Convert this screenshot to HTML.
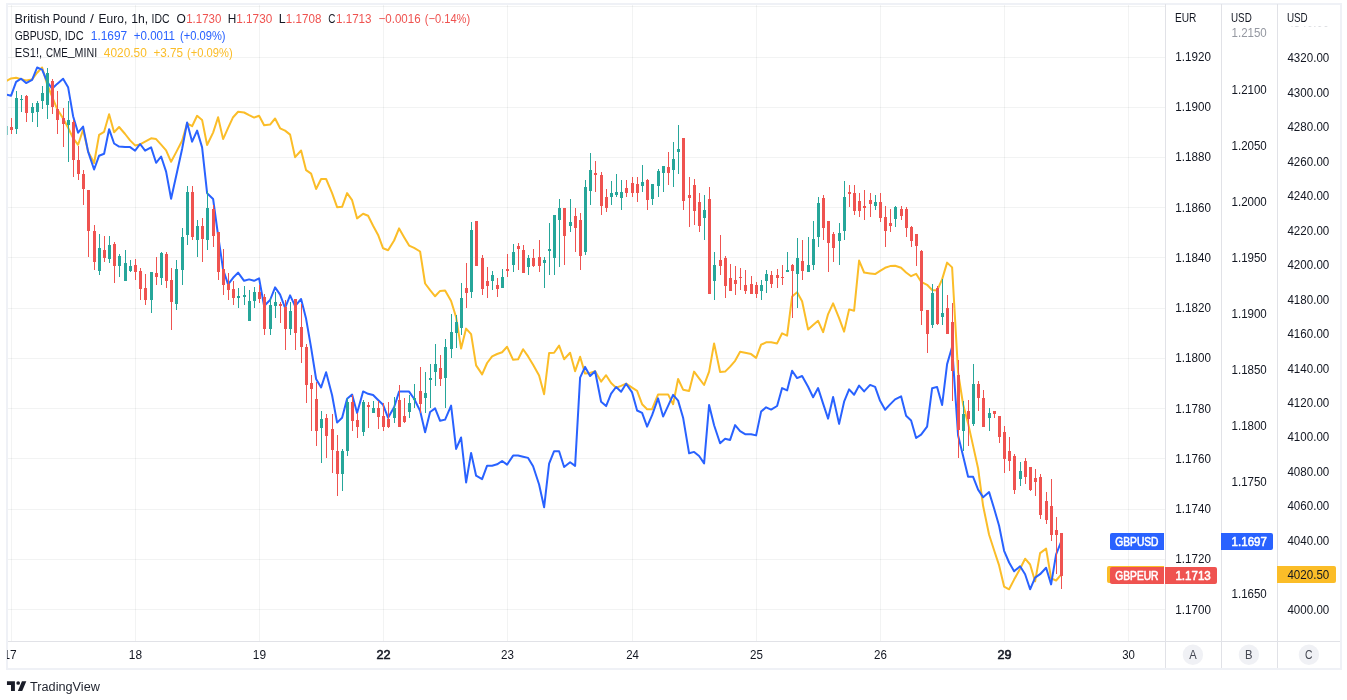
<!DOCTYPE html>
<html lang="en"><head><meta charset="utf-8"><title>GBPEUR chart</title>
<style>html,body{margin:0;padding:0;background:#fff;}body{width:1347px;height:700px;overflow:hidden;font-family:'Liberation Sans', Arial, sans-serif;}svg{display:block;}text{font-family:'Liberation Sans', Arial, sans-serif;}</style>
</head><body>
<svg width="1347" height="700" viewBox="0 0 1347 700">
<rect x="0" y="0" width="1347" height="700" fill="#ffffff"/>
<defs><clipPath id="pane"><rect x="7" y="5" width="1158" height="636"/></clipPath></defs>
<g fill="#eff1f6">
<rect x="6" y="3" width="1336" height="2"/>
<rect x="6" y="668" width="1336" height="2"/>
<rect x="6" y="3" width="2" height="667"/>
<rect x="1340" y="3" width="2" height="667"/>
</g>
<g fill="#e1e2e7">
<rect x="1165" y="4" width="1" height="664"/>
<rect x="1221" y="4" width="1" height="664"/>
<rect x="1277" y="4" width="1" height="664"/>
<rect x="8" y="641" width="1332" height="1"/>
</g>
<g stroke="#2a2e39" stroke-opacity="0.06" stroke-width="1">
<line x1="8" y1="6.5" x2="1165" y2="6.5"/>
<line x1="8" y1="57.5" x2="1165" y2="57.5"/>
<line x1="8" y1="107.5" x2="1165" y2="107.5"/>
<line x1="8" y1="157.5" x2="1165" y2="157.5"/>
<line x1="8" y1="207.5" x2="1165" y2="207.5"/>
<line x1="8" y1="257.5" x2="1165" y2="257.5"/>
<line x1="8" y1="308.5" x2="1165" y2="308.5"/>
<line x1="8" y1="358.5" x2="1165" y2="358.5"/>
<line x1="8" y1="408.5" x2="1165" y2="408.5"/>
<line x1="8" y1="458.5" x2="1165" y2="458.5"/>
<line x1="8" y1="509.5" x2="1165" y2="509.5"/>
<line x1="8" y1="559.5" x2="1165" y2="559.5"/>
<line x1="8" y1="609.5" x2="1165" y2="609.5"/>
<line x1="11.5" y1="5" x2="11.5" y2="641"/>
<line x1="135.5" y1="5" x2="135.5" y2="641"/>
<line x1="259.5" y1="5" x2="259.5" y2="641"/>
<line x1="383.5" y1="5" x2="383.5" y2="641"/>
<line x1="507.5" y1="5" x2="507.5" y2="641"/>
<line x1="632.5" y1="5" x2="632.5" y2="641"/>
<line x1="756.5" y1="5" x2="756.5" y2="641"/>
<line x1="880.5" y1="5" x2="880.5" y2="641"/>
<line x1="1004.5" y1="5" x2="1004.5" y2="641"/>
<line x1="1128.5" y1="5" x2="1128.5" y2="641"/>
</g>
<g clip-path="url(#pane)">
<polyline points="6.10,81.0 11.10,78.4 16.10,77.7 21.10,79.1 26.10,80.5 32.10,79.4 37.10,72.7 42.10,67.5 47.10,84.1 52.10,96.6 57.10,109.0 63.10,118.4 68.10,127.7 73.10,138.1 78.10,144.8 83.10,129.7 88.10,151.6 94.10,163.0 99.10,134.9 104.10,131.8 109.10,114.2 114.10,132.3 119.10,127.0 125.10,134.0 130.10,140.4 135.10,145.4 140.10,144.4 145.10,141.7 151.10,138.3 156.10,139.1 161.10,144.7 166.10,150.3 171.10,161.8 176.10,152.4 182.10,140.8 187.10,123.5 192.10,126.2 197.10,115.8 202.10,119.9 207.10,145.0 213.10,132.6 218.10,117.2 223.10,139.1 228.10,127.9 233.10,117.2 238.10,111.8 244.10,112.5 249.10,115.2 254.10,117.6 259.10,115.8 264.10,125.2 270.10,124.6 275.10,118.5 280.10,128.3 285.10,130.6 290.10,134.6 295.10,157.2 301.10,150.5 306.10,170.2 311.10,173.6 316.10,189.0 321.10,179.0 326.10,179.0 332.10,193.1 337.10,207.2 342.10,206.8 347.10,193.1 352.10,200.2 357.10,218.4 363.10,213.7 368.10,215.7 373.10,225.7 378.10,234.9 383.10,248.3 388.10,250.2 394.10,240.5 399.10,228.4 404.10,237.2 409.10,245.6 414.10,247.9 420.10,251.5 425.10,283.5 430.10,290.2 435.10,296.3 440.10,290.9 445.10,290.5 451.10,301.0 456.10,317.2 461.10,348.6 466.10,328.6 471.10,334.2 476.10,365.4 482.10,374.4 487.10,363.0 492.10,356.4 497.10,354.0 502.10,352.2 507.10,346.8 513.10,359.8 518.10,359.2 523.10,349.2 528.10,356.4 533.10,364.8 539.10,375.6 544.10,394.2 549.10,353.0 554.10,352.8 559.10,345.6 564.10,359.2 570.10,352.8 575.10,371.2 580.10,356.8 585.10,373.6 590.10,372.9 595.10,371.2 601.10,381.6 606.10,375.2 611.10,383.0 616.10,387.7 621.10,385.9 626.10,383.7 632.10,387.7 637.10,390.8 642.10,404.2 647.10,409.2 652.10,409.2 658.10,394.4 663.10,394.4 668.10,394.4 673.10,404.2 678.10,379.0 683.10,389.7 689.10,391.0 694.10,371.6 699.10,378.3 704.10,385.0 709.10,371.6 714.10,343.4 720.10,372.0 725.10,371.6 730.10,366.6 735.10,360.8 740.10,351.8 745.10,352.8 751.10,354.1 756.10,357.9 761.10,344.7 766.10,342.3 771.10,342.3 777.10,343.4 782.10,333.3 787.10,335.6 792.10,296.6 797.10,292.3 802.10,301.3 808.10,329.6 813.10,325.1 818.10,320.8 823.10,332.2 828.10,314.1 833.10,303.4 839.10,318.1 844.10,331.6 849.10,309.4 854.10,310.7 859.10,260.6 864.10,272.5 870.10,273.4 875.10,274.1 880.10,270.9 885.10,267.8 890.10,266.1 895.10,265.7 901.10,267.8 906.10,272.5 911.10,276.2 916.10,273.8 921.10,281.8 927.10,284.8 932.10,290.0 937.10,290.5 942.10,279.4 947.10,262.6 952.10,267.4 958.10,372.4 963.10,404.5 968.10,423.4 973.10,445.9 978.10,468.5 983.10,505.8 989.10,534.8 994.10,550.2 999.10,565.4 1004.10,586.6 1009.10,589.3 1014.10,579.6 1020.10,568.8 1025.10,558.7 1030.10,564.5 1035.10,581.4 1040.10,553.1 1046.10,548.6 1051.10,578.3 1056.10,580.5 1061.10,574.7" fill="none" stroke="#fbbd28" stroke-width="2" stroke-linejoin="round" stroke-linecap="round"/>
<polyline points="6.10,94.5 11.10,95.7 16.10,81.8 21.10,78.7 26.10,83.1 32.10,79.9 37.10,67.5 42.10,69.6 47.10,81.5 52.10,88.8 57.10,83.9 63.10,78.7 68.10,87.2 73.10,116.2 78.10,132.7 83.10,126.6 88.10,151.6 94.10,169.5 99.10,155.7 104.10,153.7 109.10,129.2 114.10,143.5 119.10,146.6 125.10,147.1 130.10,147.1 135.10,150.7 140.10,144.0 145.10,150.7 151.10,147.4 156.10,162.8 161.10,156.5 166.10,171.6 171.10,198.8 176.10,176.3 182.10,149.0 187.10,122.5 192.10,141.7 197.10,130.6 202.10,147.4 207.10,193.2 213.10,198.9 218.10,235.5 223.10,269.5 228.10,284.4 233.10,277.8 238.10,272.6 244.10,280.8 249.10,279.4 254.10,280.8 259.10,278.4 264.10,306.0 270.10,300.0 275.10,287.4 280.10,294.6 285.10,308.0 290.10,295.4 295.10,306.2 301.10,299.0 306.10,318.8 311.10,347.6 316.10,379.0 321.10,387.4 326.10,372.2 332.10,395.2 337.10,422.6 342.10,417.8 347.10,398.8 352.10,394.6 357.10,413.0 363.10,391.4 368.10,393.8 373.10,395.0 378.10,400.0 383.10,404.8 388.10,417.8 394.10,407.2 399.10,391.6 404.10,391.6 409.10,391.6 414.10,398.8 420.10,410.8 425.10,432.2 430.10,412.0 435.10,408.4 440.10,420.8 445.10,419.6 451.10,405.6 456.10,448.9 461.10,437.5 466.10,482.5 471.10,452.9 476.10,475.7 482.10,479.1 487.10,465.7 492.10,465.7 497.10,464.3 502.10,461.0 507.10,464.6 513.10,455.6 518.10,455.6 523.10,456.7 528.10,457.9 533.10,466.3 539.10,484.5 544.10,507.3 549.10,463.7 554.10,451.2 559.10,451.2 564.10,467.0 570.10,462.3 575.10,465.9 580.10,377.6 585.10,366.9 590.10,376.0 595.10,371.2 601.10,401.8 606.10,406.1 611.10,393.7 616.10,387.0 621.10,391.7 626.10,383.7 632.10,392.4 637.10,410.5 642.10,412.8 647.10,426.6 652.10,415.2 658.10,398.4 663.10,416.6 668.10,405.8 673.10,394.9 678.10,400.6 683.10,417.7 689.10,453.3 694.10,451.9 699.10,456.0 704.10,463.4 709.10,404.9 714.10,425.3 720.10,443.2 725.10,438.8 730.10,439.9 735.10,425.1 740.10,431.1 745.10,434.2 751.10,434.2 756.10,435.4 761.10,411.6 766.10,407.3 771.10,409.6 777.10,406.0 782.10,388.1 787.10,390.4 792.10,370.7 797.10,378.1 802.10,376.0 808.10,386.8 813.10,397.3 818.10,388.1 823.10,403.6 828.10,418.6 833.10,397.0 839.10,423.9 844.10,401.7 849.10,389.4 854.10,394.7 859.10,385.6 864.10,391.4 870.10,384.9 875.10,386.9 880.10,400.8 885.10,409.8 890.10,404.4 895.10,399.4 901.10,396.3 906.10,415.8 911.10,420.5 916.10,438.0 921.10,434.6 927.10,426.6 932.10,388.3 937.10,386.9 942.10,405.1 947.10,364.1 952.10,347.0 958.10,435.6 963.10,455.9 968.10,476.8 973.10,476.8 978.10,489.6 983.10,497.3 989.10,492.1 994.10,508.5 999.10,525.8 1004.10,550.8 1009.10,562.5 1014.10,571.3 1020.10,566.3 1025.10,574.2 1030.10,589.3 1035.10,577.6 1040.10,574.2 1046.10,567.7 1051.10,584.4 1056.10,554.4 1061.10,541.8" fill="none" stroke="#2962ff" stroke-width="2" stroke-linejoin="round" stroke-linecap="round"/>
<path d="M16 91v43h1v-43zM21 95v17h1v-17zM32 103v19h1v-19zM37 101v26h1v-26zM42 86v23h1v-23zM47 68v51h1v-51zM68 101v61h1v-61zM99 234v41h1v-41zM109 236v27h1v-27zM119 254v23h1v-23zM125 250v31h1v-31zM130 260v12h1v-12zM151 272v41h1v-41zM161 252v33h1v-33zM176 260v50h1v-50zM182 228v57h1v-57zM187 186v59h1v-59zM197 220v37h1v-37zM207 191v59h1v-59zM238 288v20h1v-20zM244 286v19h1v-19zM249 290v31h1v-31zM254 287v21h1v-21zM270 298v37h1v-37zM275 292v26h1v-26zM290 302v33h1v-33zM321 411v52h1v-52zM342 449v42h1v-42zM347 398v58h1v-58zM363 400v36h1v-36zM373 401v12h1v-12zM394 397v26h1v-26zM409 395v23h1v-23zM414 384v24h1v-24zM425 372v41h1v-41zM430 364v44h1v-44zM435 344v42h1v-42zM445 339v69h1v-69zM451 314v44h1v-44zM456 315v33h1v-33zM461 283v52h1v-52zM471 222v76h1v-76zM492 271v19h1v-19zM502 269v19h1v-19zM513 244v28h1v-28zM528 255v20h1v-20zM544 257v31h1v-31zM549 223v52h1v-52zM554 215v60h1v-60zM559 199v68h1v-68zM570 199v33h1v-33zM585 180v75h1v-75zM590 153v52h1v-52zM611 181v24h1v-24zM616 174v23h1v-23zM621 180v30h1v-30zM642 165v27h1v-27zM652 184v21h1v-21zM658 169v28h1v-28zM663 166v26h1v-26zM673 142v45h1v-45zM678 125v49h1v-49zM704 195v45h1v-45zM714 252v48h1v-48zM761 280v20h1v-20zM766 270v23h1v-23zM787 252v20h1v-20zM797 238v70h1v-70zM808 237v35h1v-35zM813 221v49h1v-49zM818 197v50h1v-50zM839 223v42h1v-42zM844 181v59h1v-59zM875 195v15h1v-15zM895 206v21h1v-21zM932 284v44h1v-44zM942 279v46h1v-46zM963 401v50h1v-50zM973 364v62h1v-62zM989 408v23h1v-23zM1020 462v24h1v-24z" fill="#26a69a"/>
<path d="M15 98v31h3v-31zM20 99v1h3v-1zM31 107v6h3v-6zM36 103v9h3v-9zM41 93v8h3v-8zM46 73v32h3v-32zM67 120v5h3v-5zM98 248v23h3v-23zM108 245v14h3v-14zM118 256v10h3v-10zM124 263v18h3v-18zM129 266v5h3v-5zM150 272v28h3v-28zM160 253v25h3v-25zM175 269v35h3v-35zM181 237v33h3v-33zM186 192v43h3v-43zM196 226v14h3v-14zM206 208v32h3v-32zM237 296v2h3v-2zM243 295v2h3v-2zM248 301v20h3v-20zM253 292v9h3v-9zM269 305v24h3v-24zM274 302v4h3v-4zM289 311v18h3v-18zM320 419v9h3v-9zM341 451v23h3v-23zM346 402v49h3v-49zM362 402v30h3v-30zM372 408v5h3v-5zM393 408v10h3v-10zM408 403v9h3v-9zM413 398v2h3v-2zM424 393v5h3v-5zM429 378v2h3v-2zM434 364v8h3v-8zM444 347v31h3v-31zM450 332v17h3v-17zM455 322v11h3v-11zM460 298v30h3v-30zM470 230v62h3v-62zM491 275v6h3v-6zM501 277v11h3v-11zM512 252v13h3v-13zM527 258v9h3v-9zM543 260v3h3v-3zM548 249v2h3v-2zM553 215v43h3v-43zM558 208v12h3v-12zM569 222v4h3v-4zM584 187v65h3v-65zM589 170v21h3v-21zM610 193v4h3v-4zM615 192v3h3v-3zM620 192v6h3v-6zM641 182v4h3v-4zM651 184v15h3v-15zM657 171v15h3v-15zM662 166v7h3v-7zM672 159v11h3v-11zM677 149v3h3v-3zM703 210v8h3v-8zM713 265v16h3v-16zM760 285v6h3v-6zM765 274v7h3v-7zM786 270v2h3v-2zM796 258v16h3v-16zM807 265v7h3v-7zM812 239v26h3v-26zM817 203v34h3v-34zM838 233v8h3v-8zM843 197v34h3v-34zM874 202v4h3v-4zM894 207v12h3v-12zM931 293v32h3v-32zM941 313v4h3v-4zM962 414v17h3v-17zM972 384v40h3v-40zM988 413v5h3v-5zM1019 471v8h3v-8z" fill="#26a69a"/>
<path d="M11 118v16h1v-16zM26 95v27h1v-27zM52 79v35h1v-35zM57 91v43h1v-43zM63 108v39h1v-39zM73 120v57h1v-57zM78 146v34h1v-34zM83 170v35h1v-35zM88 190v67h1v-67zM94 225v45h1v-45zM104 236v26h1v-26zM114 242v41h1v-41zM135 259v21h1v-21zM140 268v32h1v-32zM145 274v31h1v-31zM156 257v28h1v-28zM166 252v36h1v-36zM171 268v62h1v-62zM192 186v54h1v-54zM202 218v44h1v-44zM213 205v42h1v-42zM218 232v48h1v-48zM223 249v46h1v-46zM228 273v27h1v-27zM233 281v24h1v-24zM259 285v18h1v-18zM264 294v41h1v-41zM280 302v21h1v-21zM285 300v50h1v-50zM295 299v51h1v-51zM301 304v59h1v-59zM306 344v59h1v-59zM311 375v56h1v-56zM316 382v64h1v-64zM326 414v44h1v-44zM332 414v59h1v-59zM337 435v61h1v-61zM352 395v36h1v-36zM357 413v25h1v-25zM368 402v26h1v-26zM378 401v28h1v-28zM383 403v28h1v-28zM388 402v26h1v-26zM399 385v42h1v-42zM404 398v25h1v-25zM420 367v46h1v-46zM440 355v31h1v-31zM466 263v45h1v-45zM476 221v45h1v-45zM482 255v40h1v-40zM487 267v31h1v-31zM497 278v19h1v-19zM507 254v23h1v-23zM518 243v27h1v-27zM523 245v28h1v-28zM533 249v18h1v-18zM539 240v32h1v-32zM564 208v57h1v-57zM575 208v44h1v-44zM580 213v57h1v-57zM595 161v31h1v-31zM601 172v43h1v-43zM606 189v23h1v-23zM626 180v17h1v-17zM632 177v20h1v-20zM637 177v25h1v-25zM647 179v31h1v-31zM668 152v33h1v-33zM683 138v72h1v-72zM689 177v50h1v-50zM694 179v46h1v-46zM699 193v39h1v-39zM709 187v107h1v-107zM720 235v40h1v-40zM725 256v42h1v-42zM730 264v27h1v-27zM735 266v29h1v-29zM740 268v22h1v-22zM745 270v24h1v-24zM751 276v18h1v-18zM756 282v16h1v-16zM771 271v17h1v-17zM777 269v19h1v-19zM782 265v20h1v-20zM792 264v54h1v-54zM802 240v40h1v-40zM823 195v45h1v-45zM828 221v51h1v-51zM833 232v30h1v-30zM849 185v22h1v-22zM854 185v30h1v-30zM859 193v24h1v-24zM864 190v30h1v-30zM870 193v24h1v-24zM880 193v29h1v-29zM885 206v41h1v-41zM890 209v23h1v-23zM901 206v14h1v-14zM906 207v30h1v-30zM911 226v21h1v-21zM916 234v32h1v-32zM921 250v75h1v-75zM927 310v43h1v-43zM937 286v39h1v-39zM947 295v39h1v-39zM952 303v98h1v-98zM958 360v98h1v-98zM968 400v46h1v-46zM978 381v30h1v-30zM983 390v37h1v-37zM994 411v7h1v-7zM999 416v27h1v-27zM1004 426v47h1v-47zM1009 437v34h1v-34zM1014 454v40h1v-40zM1025 458v26h1v-26zM1030 467v24h1v-24zM1035 469v27h1v-27zM1040 474v45h1v-45zM1046 492v32h1v-32zM1051 479v62h1v-62zM1056 517v57h1v-57zM1061 533v56h1v-56z" fill="#ef5350"/>
<path d="M10 127v3h3v-3zM25 96v17h3v-17zM51 81v26h3v-26zM56 109v11h3v-11zM62 118v6h3v-6zM72 122v38h3v-38zM77 160v14h3v-14zM82 174v15h3v-15zM87 190v41h3v-41zM93 231v31h3v-31zM103 250v8h3v-8zM113 244v22h3v-22zM134 265v7h3v-7zM139 271v18h3v-18zM144 288v12h3v-12zM155 273v4h3v-4zM165 254v27h3v-27zM170 280v22h3v-22zM191 192v45h3v-45zM201 226v13h3v-13zM212 209v27h3v-27zM217 232v40h3v-40zM222 269v16h3v-16zM227 284v6h3v-6zM232 289v9h3v-9zM258 292v7h3v-7zM263 297v32h3v-32zM279 304v2h3v-2zM284 307v22h3v-22zM294 299v34h3v-34zM300 327v20h3v-20zM305 347v38h3v-38zM310 383v6h3v-6zM315 399v32h3v-32zM325 418v18h3v-18zM331 429v21h3v-21zM336 451v23h3v-23zM351 402v19h3v-19zM356 420v7h3v-7zM367 405v2h3v-2zM377 408v9h3v-9zM382 416v11h3v-11zM387 419v8h3v-8zM398 400v27h3v-27zM403 416v6h3v-6zM419 391v13h3v-13zM439 368v11h3v-11zM465 288v5h3v-5zM475 221v45h3v-45zM481 258v31h3v-31zM486 281v5h3v-5zM496 285v4h3v-4zM506 269v2h3v-2zM517 246v3h3v-3zM522 250v23h3v-23zM532 258v8h3v-8zM538 257v9h3v-9zM563 208v28h3v-28zM574 216v12h3v-12zM579 220v36h3v-36zM594 173v2h3v-2zM600 175v31h3v-31zM605 197v11h3v-11zM625 188v5h3v-5zM631 183v10h3v-10zM636 184v9h3v-9zM646 180v20h3v-20zM667 167v6h3v-6zM682 138v63h3v-63zM688 195v3h3v-3zM693 185v26h3v-26zM698 202v24h3v-24zM708 199v95h3v-95zM719 260v6h3v-6zM724 258v28h3v-28zM729 278v13h3v-13zM734 280v4h3v-4zM739 277v1h3v-1zM744 285v6h3v-6zM750 284v10h3v-10zM755 285v9h3v-9zM770 275v9h3v-9zM776 275v3h3v-3zM781 277v1h3v-1zM791 265v6h3v-6zM801 261v10h3v-10zM822 198v30h3v-30zM827 221v22h3v-22zM832 234v14h3v-14zM848 192v2h3v-2zM853 193v18h3v-18zM858 201v10h3v-10zM863 206v2h3v-2zM869 200v4h3v-4zM879 202v16h3v-16zM884 217v14h3v-14zM889 223v3h3v-3zM900 209v7h3v-7zM905 209v19h3v-19zM910 227v14h3v-14zM915 234v12h3v-12zM920 251v60h3v-60zM926 310v24h3v-24zM936 288v36h3v-36zM946 308v26h3v-26zM951 322v49h3v-49zM957 375v55h3v-55zM967 411v8h3v-8zM977 384v14h3v-14zM982 398v29h3v-29zM993 411v3h3v-3zM998 416v21h3v-21zM1003 432v27h3v-27zM1008 451v10h3v-10zM1013 456v34h3v-34zM1024 461v16h3v-16zM1029 467v23h3v-23zM1034 478v4h3v-4zM1039 477v38h3v-38zM1045 501v19h3v-19zM1050 506v29h3v-29zM1055 530v5h3v-5zM1060 533v43h3v-43z" fill="#ef5350"/>
</g>
<rect x="7" y="126" width="1" height="9" fill="#26a69a" fill-opacity="0.55"/>
<text transform="translate(1174.96 21.80) scale(0.1019 0.1257)" font-size="100" fill="#131722">EUR</text>
<text transform="translate(1231.04 21.80) scale(0.0981 0.1257)" font-size="100" fill="#131722">USD</text>
<text transform="translate(1286.94 21.80) scale(0.0986 0.1257)" font-size="100" fill="#131722">USD</text>
<text transform="translate(1175.33 61.10) scale(0.1165 0.1257)" font-size="100" fill="#131722">1.1920</text>
<text transform="translate(1175.33 111.10) scale(0.1165 0.1257)" font-size="100" fill="#131722">1.1900</text>
<text transform="translate(1175.33 161.10) scale(0.1165 0.1257)" font-size="100" fill="#131722">1.1880</text>
<text transform="translate(1175.33 212.10) scale(0.1165 0.1257)" font-size="100" fill="#131722">1.1860</text>
<text transform="translate(1175.33 262.10) scale(0.1165 0.1257)" font-size="100" fill="#131722">1.1840</text>
<text transform="translate(1175.33 312.10) scale(0.1165 0.1257)" font-size="100" fill="#131722">1.1820</text>
<text transform="translate(1175.33 362.10) scale(0.1165 0.1257)" font-size="100" fill="#131722">1.1800</text>
<text transform="translate(1175.33 413.10) scale(0.1165 0.1257)" font-size="100" fill="#131722">1.1780</text>
<text transform="translate(1175.33 463.10) scale(0.1165 0.1257)" font-size="100" fill="#131722">1.1760</text>
<text transform="translate(1175.33 513.10) scale(0.1165 0.1257)" font-size="100" fill="#131722">1.1740</text>
<text transform="translate(1175.33 563.10) scale(0.1165 0.1257)" font-size="100" fill="#131722">1.1720</text>
<text transform="translate(1175.33 614.10) scale(0.1165 0.1257)" font-size="100" fill="#131722">1.1700</text>
<text transform="translate(1231.53 37.10) scale(0.1154 0.1257)" font-size="100" fill="#9598a1">1.2150</text>
<text transform="translate(1231.53 94.10) scale(0.1154 0.1257)" font-size="100" fill="#131722">1.2100</text>
<text transform="translate(1231.53 150.10) scale(0.1154 0.1257)" font-size="100" fill="#131722">1.2050</text>
<text transform="translate(1231.53 206.10) scale(0.1154 0.1257)" font-size="100" fill="#131722">1.2000</text>
<text transform="translate(1231.53 262.10) scale(0.1154 0.1257)" font-size="100" fill="#131722">1.1950</text>
<text transform="translate(1231.53 318.10) scale(0.1154 0.1257)" font-size="100" fill="#131722">1.1900</text>
<text transform="translate(1231.53 374.10) scale(0.1154 0.1257)" font-size="100" fill="#131722">1.1850</text>
<text transform="translate(1231.53 430.10) scale(0.1154 0.1257)" font-size="100" fill="#131722">1.1800</text>
<text transform="translate(1231.53 486.10) scale(0.1154 0.1257)" font-size="100" fill="#131722">1.1750</text>
<text transform="translate(1231.53 598.10) scale(0.1154 0.1257)" font-size="100" fill="#131722">1.1650</text>
<text transform="translate(1287.44 61.90) scale(0.1157 0.1257)" font-size="100" fill="#131722">4320.00</text>
<text transform="translate(1287.44 96.90) scale(0.1157 0.1257)" font-size="100" fill="#131722">4300.00</text>
<text transform="translate(1287.44 130.90) scale(0.1157 0.1257)" font-size="100" fill="#131722">4280.00</text>
<text transform="translate(1287.44 165.90) scale(0.1157 0.1257)" font-size="100" fill="#131722">4260.00</text>
<text transform="translate(1287.44 199.90) scale(0.1157 0.1257)" font-size="100" fill="#131722">4240.00</text>
<text transform="translate(1287.44 234.90) scale(0.1157 0.1257)" font-size="100" fill="#131722">4220.00</text>
<text transform="translate(1287.44 268.90) scale(0.1157 0.1257)" font-size="100" fill="#131722">4200.00</text>
<text transform="translate(1287.44 303.90) scale(0.1157 0.1257)" font-size="100" fill="#131722">4180.00</text>
<text transform="translate(1287.44 337.90) scale(0.1157 0.1257)" font-size="100" fill="#131722">4160.00</text>
<text transform="translate(1287.44 372.90) scale(0.1157 0.1257)" font-size="100" fill="#131722">4140.00</text>
<text transform="translate(1287.44 406.90) scale(0.1157 0.1257)" font-size="100" fill="#131722">4120.00</text>
<text transform="translate(1287.44 440.90) scale(0.1157 0.1257)" font-size="100" fill="#131722">4100.00</text>
<text transform="translate(1287.44 475.90) scale(0.1157 0.1257)" font-size="100" fill="#131722">4080.00</text>
<text transform="translate(1287.44 509.90) scale(0.1157 0.1257)" font-size="100" fill="#131722">4060.00</text>
<text transform="translate(1287.44 544.90) scale(0.1157 0.1257)" font-size="100" fill="#131722">4040.00</text>
<text transform="translate(1287.44 613.90) scale(0.1157 0.1257)" font-size="100" fill="#131722">4000.00</text>
<defs><clipPath id="peek"><rect x="1280" y="26.6" width="58" height="1.4"/></clipPath></defs>
<g clip-path="url(#peek)">
<text transform="translate(1287.44 27.40) scale(0.1157 0.1257)" font-size="100" fill="#b2b5be">4340.00</text>
</g>
<path d="M1109.0 566.0 H1164.0 V583.0 H1109.0 a2 2 0 0 1 -2 -2 V568.0 a2 2 0 0 1 2 -2 Z" fill="#fbbd28"/>
<path d="M1112.0 533.0 H1164.0 V550.0 H1112.0 a2 2 0 0 1 -2 -2 V535.0 a2 2 0 0 1 2 -2 Z" fill="#2962ff"/>
<path d="M1112.0 567.0 H1164.0 V584.0 H1112.0 a2 2 0 0 1 -2 -2 V569.0 a2 2 0 0 1 2 -2 Z" fill="#ef5350"/>
<path d="M1221.0 533.0 H1271.0 a2 2 0 0 1 2 2 V548.0 a2 2 0 0 1 -2 2 H1221.0 V533.0 Z" fill="#2962ff"/>
<path d="M1165.0 567.0 H1215.0 a2 2 0 0 1 2 2 V582.0 a2 2 0 0 1 -2 2 H1165.0 V567.0 Z" fill="#ef5350"/>
<path d="M1277.0 566.0 H1334.0 a2 2 0 0 1 2 2 V581.0 a2 2 0 0 1 -2 2 H1277.0 V566.0 Z" fill="#fbbd28"/>
<text transform="translate(1115.36 545.80) scale(0.1022 0.1257)" font-size="100" fill="#ffffff" stroke="#ffffff" stroke-width="4.83" stroke-linejoin="round">GBPUSD</text>
<text transform="translate(1115.36 579.80) scale(0.1022 0.1257)" font-size="100" fill="#ffffff" stroke="#ffffff" stroke-width="4.83" stroke-linejoin="round">GBPEUR</text>
<text transform="translate(1231.61 545.90) scale(0.1154 0.1257)" font-size="100" fill="#ffffff" stroke="#ffffff" stroke-width="4.56" stroke-linejoin="round">1.1697</text>
<text transform="translate(1175.41 579.80) scale(0.1158 0.1257)" font-size="100" fill="#ffffff" stroke="#ffffff" stroke-width="4.55" stroke-linejoin="round">1.1713</text>
<text transform="translate(1287.44 578.80) scale(0.1157 0.1257)" font-size="100" fill="#131722">4020.50</text>
<circle cx="1192.9" cy="654.7" r="10.2" fill="#f0f1f5"/>
<text transform="translate(1189.17 658.90) scale(0.1117 0.1286)" font-size="100" fill="#434651">A</text>
<circle cx="1248.9" cy="654.7" r="10.2" fill="#f0f1f5"/>
<text transform="translate(1244.97 658.90) scale(0.1127 0.1286)" font-size="100" fill="#434651">B</text>
<circle cx="1308.9" cy="654.7" r="10.2" fill="#f0f1f5"/>
<text transform="translate(1305.08 658.90) scale(0.1039 0.1286)" font-size="100" fill="#434651">C</text>
<defs><clipPath id="taxis"><rect x="7" y="642" width="1158" height="26"/></clipPath></defs>
<g clip-path="url(#taxis)">
<text transform="translate(3.40 659.10) scale(0.1198 0.1314)" font-size="100" fill="#131722">17</text>
<text transform="translate(128.81 659.10) scale(0.1189 0.1314)" font-size="100" fill="#131722">18</text>
<text transform="translate(252.81 659.10) scale(0.1192 0.1314)" font-size="100" fill="#131722">19</text>
<text transform="translate(376.57 659.10) scale(0.1267 0.1314)" font-size="100" fill="#131722" stroke="#131722" stroke-width="4.65" stroke-linejoin="round">22</text>
<text transform="translate(501.12 659.10) scale(0.1160 0.1314)" font-size="100" fill="#131722">23</text>
<text transform="translate(626.13 659.10) scale(0.1143 0.1314)" font-size="100" fill="#131722">24</text>
<text transform="translate(750.12 659.10) scale(0.1157 0.1314)" font-size="100" fill="#131722">25</text>
<text transform="translate(874.12 659.10) scale(0.1160 0.1314)" font-size="100" fill="#131722">26</text>
<text transform="translate(997.57 659.10) scale(0.1261 0.1314)" font-size="100" fill="#131722" stroke="#131722" stroke-width="4.66" stroke-linejoin="round">29</text>
<text transform="translate(1122.27 659.10) scale(0.1140 0.1314)" font-size="100" fill="#131722">30</text>
</g>
<text transform="translate(0 22.90) scale(0.1257 0.1257)" font-size="100" fill="#131722"><tspan x="115.8" textLength="280.4" lengthAdjust="spacingAndGlyphs" fill="#131722">British</tspan> <tspan x="420.6" textLength="258.9" lengthAdjust="spacingAndGlyphs" fill="#131722">Pound</tspan> <tspan x="717.1" textLength="31.1" lengthAdjust="spacingAndGlyphs" fill="#131722">/</tspan> <tspan x="784.4" textLength="228.1" lengthAdjust="spacingAndGlyphs" fill="#131722">Euro,</tspan> <tspan x="1043.5" textLength="134.5" lengthAdjust="spacingAndGlyphs" fill="#131722">1h,</tspan> <tspan x="1206.1" textLength="143.7" lengthAdjust="spacingAndGlyphs" fill="#131722">IDC</tspan> <tspan x="1404.2" textLength="74.3" lengthAdjust="spacingAndGlyphs" fill="#131722">O</tspan><tspan x="1481.4" textLength="279.2" lengthAdjust="spacingAndGlyphs" fill="#ef5350">1.1730</tspan> <tspan x="1811.4" textLength="68.0" lengthAdjust="spacingAndGlyphs" fill="#131722">H</tspan><tspan x="1879.8" textLength="285.9" lengthAdjust="spacingAndGlyphs" fill="#ef5350">1.1730</tspan> <tspan x="2216.7" textLength="55.3" lengthAdjust="spacingAndGlyphs" fill="#131722">L</tspan><tspan x="2273.6" textLength="283.0" lengthAdjust="spacingAndGlyphs" fill="#ef5350">1.1708</tspan> <tspan x="2610.7" textLength="57.0" lengthAdjust="spacingAndGlyphs" fill="#131722">C</tspan><tspan x="2672.9" textLength="283.0" lengthAdjust="spacingAndGlyphs" fill="#ef5350">1.1713</tspan> <tspan x="3011.8" textLength="333.8" lengthAdjust="spacingAndGlyphs" fill="#ef5350">−0.0016</tspan> <tspan x="3379.1" textLength="361.7" lengthAdjust="spacingAndGlyphs" fill="#ef5350">(−0.14%)</tspan></text>
<text transform="translate(0 39.80) scale(0.1257 0.1257)" font-size="100" fill="#131722"><tspan x="116.8" textLength="372.0" lengthAdjust="spacingAndGlyphs" fill="#131722">GBPUSD,</tspan> <tspan x="514.5" textLength="150.5" lengthAdjust="spacingAndGlyphs" fill="#131722">IDC</tspan> <tspan x="722.3" textLength="289.6" lengthAdjust="spacingAndGlyphs" fill="#2962ff">1.1697</tspan> <tspan x="1064.7" textLength="327.8" lengthAdjust="spacingAndGlyphs" fill="#2962ff">+0.0011</tspan> <tspan x="1431.8" textLength="362.5" lengthAdjust="spacingAndGlyphs" fill="#2962ff">(+0.09%)</tspan></text>
<text transform="translate(0 56.70) scale(0.1257 0.1257)" font-size="100" fill="#131722"><tspan x="118.3" textLength="217.5" lengthAdjust="spacingAndGlyphs" fill="#131722">ES1!,</tspan> <tspan x="365.2" textLength="173.4" lengthAdjust="spacingAndGlyphs" fill="#131722">CME</tspan><tspan x="538.4" dy="-11.5" textLength="54.7" lengthAdjust="spacingAndGlyphs" fill="#131722">_</tspan><tspan x="593.5" dy="11.5" textLength="179.6" lengthAdjust="spacingAndGlyphs" fill="#131722">MINI</tspan> <tspan x="825.9" textLength="341.6" lengthAdjust="spacingAndGlyphs" fill="#fbbd28">4020.50</tspan> <tspan x="1221.4" textLength="235.7" lengthAdjust="spacingAndGlyphs" fill="#fbbd28">+3.75</tspan> <tspan x="1488.3" textLength="362.5" lengthAdjust="spacingAndGlyphs" fill="#fbbd28">(+0.09%)</tspan></text>
<g transform="translate(6.95,678.95) scale(0.545)" fill="#1a1d29"><path d="M14.6 22H7.4V11.2H0V4h14.6v18zM28 22h-8l7.5-18h8L28 22z"/><circle cx="20.6" cy="7.4" r="3.4"/></g>
<text transform="translate(30.01 690.95) scale(0.1271 0.1329)" font-size="100" fill="#1e222d">TradingView</text>
</svg>
</body></html>
